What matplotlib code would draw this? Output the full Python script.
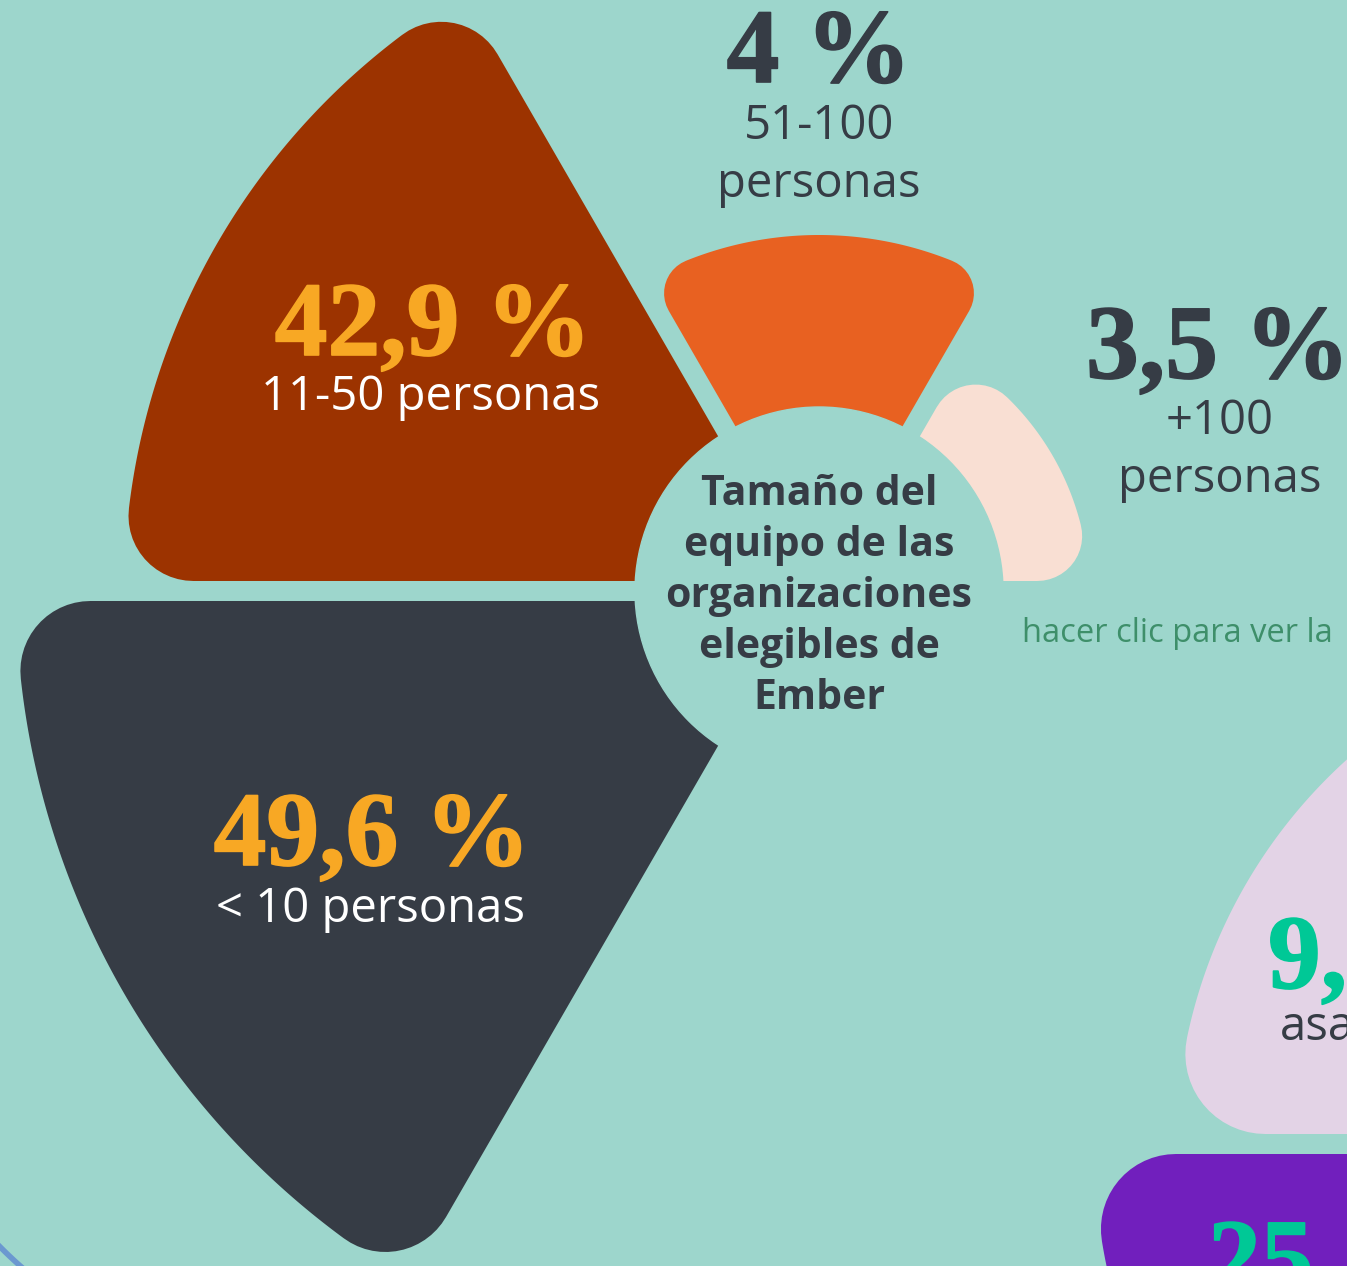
import numpy as np
import matplotlib.pyplot as plt
from matplotlib.patches import Polygon, Circle
import matplotlib.patheffects as pe

# data
categories = ['< 10 personas', '11-50 personas', '51-100\npersonas', '+100\npersonas']
values = [49.6, 42.9, 4.0, 3.5]
chart_title = 'Tamaño del\nequipo de las\norganizaciones\nelegibles de\nEmber'
link_text = 'hacer clic para ver la'

# neighbouring chart, only partly visible at the right edge
next_values = ['9,', '25']
next_labels = ['asa', '']

# layout (pixels)
W, H = 1347, 1266
center = (819, 591)
hole_r = 184
outer_r = [803, 695, 356, 270]
corner_r = [70, 65, 35, 45]
gap = 10
next_center = (1694, 1144)
next_outer_r = [518, 600]
next_corner_r = [80, 75]

# colours
bg = '#9dd6cc'
dark = '#363c45'
wedge_colors = ['#363c45', '#9c3300', '#e86121', '#f9dfd3']
number_colors = ['#f8a824', '#f8a824', dark, dark]
label_colors = ['white', 'white', dark, dark]
next_colors = ['#e3d3e6', '#711fbd']
teal = '#00c896'

num_font = 'Liberation Serif'
sans_font = ['Open Sans', 'DejaVu Sans']

fig = plt.figure(figsize=(W / 100, H / 100), dpi=100, facecolor=bg)
ax = fig.add_axes([0, 0, 1, 1])
ax.set_xlim(0, W)
ax.set_ylim(H, 0)
ax.axis('off')
ax.set_facecolor(bg)


def rounded_sector(c, R, a_lo, a_hi, rc, color):
    # inset sector, then stroked with round joins -> rounded corners
    d = gap + rc
    half = np.radians(a_hi - a_lo) / 2
    mid = np.radians(a_hi + a_lo) / 2
    apex = d / np.sin(half)
    rin = R - rc
    delta = np.arcsin(d / rin)
    ang = np.linspace(np.radians(a_lo) + delta, np.radians(a_hi) - delta, 150)
    xs = np.concatenate([[c[0] + apex * np.cos(mid)], c[0] + rin * np.cos(ang)])
    ys = np.concatenate([[c[1] - apex * np.sin(mid)], c[1] - rin * np.sin(ang)])
    poly = Polygon(np.column_stack([xs, ys]), closed=True, facecolor=color,
                   edgecolor=color, linewidth=2 * rc * 0.72, joinstyle='round')
    ax.add_patch(poly)


def heavy(color):
    return [pe.withStroke(linewidth=1.2, foreground=color)]


# main chart wedges
for i, v in enumerate(values):
    a_lo = 180 - 60 * i
    rounded_sector(center, outer_r[i], a_lo, a_lo + 60, corner_r[i], wedge_colors[i])
ax.add_patch(Circle(center, hole_r, color=bg, zorder=2))

# neighbouring chart wedges
for i in range(len(next_values)):
    a_lo = 120 + 60 * i
    rounded_sector(next_center, next_outer_r[i], a_lo, a_lo + 60, next_corner_r[i], next_colors[i])

# thin blue ring from another chart at the bottom left
t = np.linspace(np.arctan2(280, -320), np.arctan2(330, -270), 30)
ax.plot(300 + 422 * np.cos(t), 950 + 422 * np.sin(t), color='#6b98d0', lw=4)

# value labels
num_pos = [(372, 865), (433, 355), (819, 82), (1218, 378)]
lab_pos = [(371, 922), (431, 410), (819, 139), (1220, 434)]
for i, v in enumerate(values):
    txt = f'{v:g}'.replace('.', ',') + ' %'
    ax.text(num_pos[i][0], num_pos[i][1], txt, ha='center', va='baseline',
            fontsize=76, fontweight='bold', family=num_font, color=number_colors[i],
            path_effects=heavy(number_colors[i]), zorder=5)
    for j, line in enumerate(categories[i].split('\n')):
        ax.text(lab_pos[i][0], lab_pos[i][1] + j * 58, line, ha='center', va='baseline',
                fontsize=34, family=sans_font, color=label_colors[i], zorder=5)

# centre title
for j, line in enumerate(chart_title.split('\n')):
    ax.text(819, 505 + j * 51, line, ha='center', va='baseline', fontsize=29.5,
            fontweight='bold', family=sans_font, color=dark, zorder=5)

ax.text(1022, 642, link_text, ha='left', va='baseline', fontsize=23.5,
        family=sans_font, color='#3e8f6a', zorder=5)

# neighbouring chart labels (cut by the edge)
ax.text(1268, 988, next_values[0], ha='left', va='baseline', fontsize=76,
        fontweight='bold', family=num_font, color=teal,
        path_effects=heavy(teal), zorder=5)
ax.text(1280, 1040, next_labels[0], ha='left', va='baseline', fontsize=34,
        family=sans_font, color=dark, zorder=5)
ax.text(1208, 1292, next_values[1], ha='left', va='baseline', fontsize=76,
        fontweight='bold', family=num_font, color=teal,
        path_effects=heavy(teal), zorder=5)

fig.savefig('out.png', dpi=100, facecolor=bg)
